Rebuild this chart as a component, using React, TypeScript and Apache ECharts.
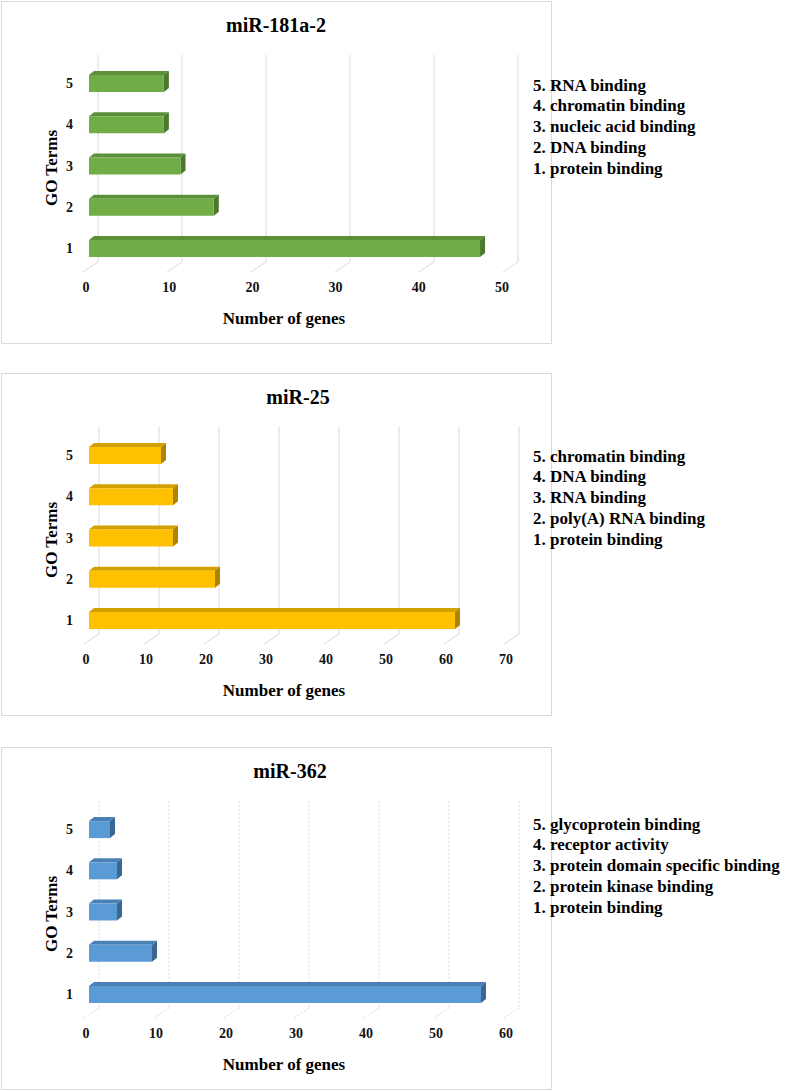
import React, { useEffect, useRef } from "react";
import * as echarts from "echarts";

// ---------- data ----------
const categories = ["1", "2", "3", "4", "5"];
const titles = ["miR-181a-2", "miR-25", "miR-362"];
const values181a2 = [47, 15, 11, 9, 9];
const values25 = [61, 21, 14, 14, 12];
const values362 = [56, 9, 4, 4, 3];
const ticks181a2 = [0, 10, 20, 30, 40, 50];
const ticks25 = [0, 10, 20, 30, 40, 50, 60, 70];
const ticks362 = [0, 10, 20, 30, 40, 50, 60];
const terms181a2 = [
  "5. RNA binding",
  "4. chromatin binding",
  "3. nucleic acid binding",
  "2. DNA binding",
  "1. protein binding",
];
const terms25 = [
  "5. chromatin binding",
  "4. DNA binding",
  "3. RNA binding",
  "2. poly(A) RNA binding",
  "1. protein binding",
];
const terms362 = [
  "5. glycoprotein binding",
  "4. receptor activity",
  "3. protein domain specific binding",
  "2. protein kinase binding",
  "1. protein binding",
];
const xAxisName = "Number of genes";
const yAxisName = "GO Terms";

// ---------- layout / style ----------
const FONT = '"Liberation Serif", "Times New Roman", serif';
const panels = [
  {
    values: values181a2, ticks: ticks181a2, terms: terms181a2, title: titles[0],
    top: 1, titleX: 276, legendTop: 84, frontWidth: 416, backLeft: 98, dashed: false,
    colors: { front: "#70ad47", top: "#5b8f39", side: "#4a782d" },
  },
  {
    values: values25, ticks: ticks25, terms: terms25, title: titles[1],
    top: 373, titleX: 298, legendTop: 83, frontWidth: 420, backLeft: 99, dashed: false,
    colors: { front: "#ffc000", top: "#d4a000", side: "#ad8300" },
  },
  {
    values: values362, ticks: ticks362, terms: terms362, title: titles[2],
    top: 747, titleX: 290, legendTop: 77, frontWidth: 420, backLeft: 99, dashed: true,
    colors: { front: "#5b9bd5", top: "#4a80b5", side: "#3a6894" },
  },
];

function buildOption() {
  const grid: any[] = [];
  const xAxis: any[] = [];
  const yAxis: any[] = [];
  const series: any[] = [];
  const title: any[] = [];
  const graphic: any[] = [];

  panels.forEach((p, i) => {
    const T = p.top;
    const max = p.ticks[p.ticks.length - 1];
    // front grid (bars + labels)
    grid.push({ left: 89, width: p.frontWidth, top: T + 62, height: 206 });
    // back grid (wall gridlines)
    grid.push({ left: p.backLeft, width: 420, top: T + 54, height: 207 });

    xAxis.push({
      type: "value", gridIndex: 2 * i, min: 0, max, interval: 10,
      splitLine: { show: false }, axisLine: { show: false }, axisTick: { show: false },
      axisLabel: {
        margin: 11, color: "#111", fontFamily: FONT, fontSize: 14, fontWeight: "bold",
        padding: [0, 6, 0, 0],
      },
    });
    xAxis.push({ type: "value", gridIndex: 2 * i + 1, min: 0, max, show: false });

    yAxis.push({
      type: "category", gridIndex: 2 * i, data: categories,
      axisLine: { show: false }, axisTick: { show: false }, splitLine: { show: false },
      axisLabel: {
        margin: 16, color: "#111", fontFamily: FONT, fontSize: 14, fontWeight: "bold",
        padding: [6, 0, 0, 0],
      },
    });
    yAxis.push({ type: "value", gridIndex: 2 * i + 1, min: 0, max: 1, show: false });

    const lineStyle = {
      stroke: "#d9d9d9", lineWidth: 1,
      lineDash: p.dashed ? [2, 2] : null,
    };
    // gridlines on back wall + floor diagonals
    series.push({
      type: "custom", xAxisIndex: 2 * i + 1, yAxisIndex: 2 * i + 1, z: 1, clip: false,
      silent: true,
      data: p.ticks.map((t) => [t, 0]),
      encode: { x: 0, y: 1 },
      renderItem: (params: any, api: any) => {
        const x = api.coord([api.value(0), 0])[0];
        const cs = params.coordSys;
        const yb = cs.y + cs.height;
        return {
          type: "group",
          children: [
            { type: "line", shape: { x1: x, y1: cs.y, x2: x, y2: yb }, style: lineStyle },
            { type: "line", shape: { x1: x, y1: yb, x2: x - 15, y2: yb + 10 }, style: lineStyle },
          ],
        };
      },
    });

    // 3D-looking bars
    const c = p.colors;
    series.push({
      type: "custom", xAxisIndex: 2 * i, yAxisIndex: 2 * i, z: 2, clip: false,
      data: p.values.map((v, k) => [v, k]),
      encode: { x: 0, y: 1 },
      renderItem: (params: any, api: any) => {
        const v = api.value(0);
        const k = api.value(1);
        const p0 = api.coord([0, k]);
        const p1 = api.coord([v, k]);
        const h = 17, dx = 5, dy = 4;
        const yT = p0[1] - h / 2;
        const yB = p0[1] + h / 2;
        const x0 = p0[0];
        const x1 = p1[0];
        return {
          type: "group",
          children: [
            {
              type: "polygon",
              shape: { points: [[x0, yT], [x0 + dx, yT - dy], [x1 + dx, yT - dy], [x1, yT]] },
              style: { fill: c.top },
            },
            {
              type: "polygon",
              shape: { points: [[x1, yT], [x1 + dx, yT - dy], [x1 + dx, yB - dy], [x1, yB]] },
              style: { fill: c.side },
            },
            {
              type: "rect",
              shape: { x: x0, y: yT, width: x1 - x0, height: h },
              style: { fill: c.front },
            },
          ],
        };
      },
    });

    title.push({
      text: p.title, left: p.titleX, top: T + 24, textAlign: "center",
      textVerticalAlign: "middle", padding: 0,
      textStyle: { fontFamily: FONT, fontSize: 20, fontWeight: "bold", color: "#000" },
    });

    // panel box
    graphic.push({
      type: "rect", z: 0, silent: true,
      shape: { x: 1.5, y: T + 0.5, width: 550, height: 342 },
      style: { fill: "none", stroke: "#d9d9d9", lineWidth: 1 },
    });
    // axis names
    graphic.push({
      type: "text", x: 51, y: T + 167, rotation: Math.PI / 2,
      style: {
        text: yAxisName, fill: "#000", font: `bold 17px ${FONT}`,
        align: "center", verticalAlign: "middle",
      },
    });
    graphic.push({
      type: "text", x: 284, y: T + 317,
      style: {
        text: xAxisName, fill: "#000", font: `bold 17px ${FONT}`,
        align: "center", verticalAlign: "middle",
      },
    });
    // term list
    p.terms.forEach((t, k) => {
      graphic.push({
        type: "text", x: 533, y: T + p.legendTop + k * 20.8,
        style: {
          text: t, fill: "#000", font: `bold 17px ${FONT}`,
          align: "left", verticalAlign: "middle",
        },
      });
    });
  });

  return {
    animation: false,
    backgroundColor: "#fff",
    title, grid, xAxis, yAxis, series, graphic,
  };
}

export default function App() {
  const ref = useRef<HTMLDivElement>(null);
  useEffect(() => {
    if (!ref.current) return;
    const chart = echarts.init(ref.current, undefined, { renderer: "svg" });
    chart.setOption(buildOption() as any);
    return () => chart.dispose();
  }, []);
  return (
    <div
      ref={ref}
      style={{ position: "absolute", left: 0, top: 0, width: 787, height: 1092, background: "#fff" }}
    />
  );
}
